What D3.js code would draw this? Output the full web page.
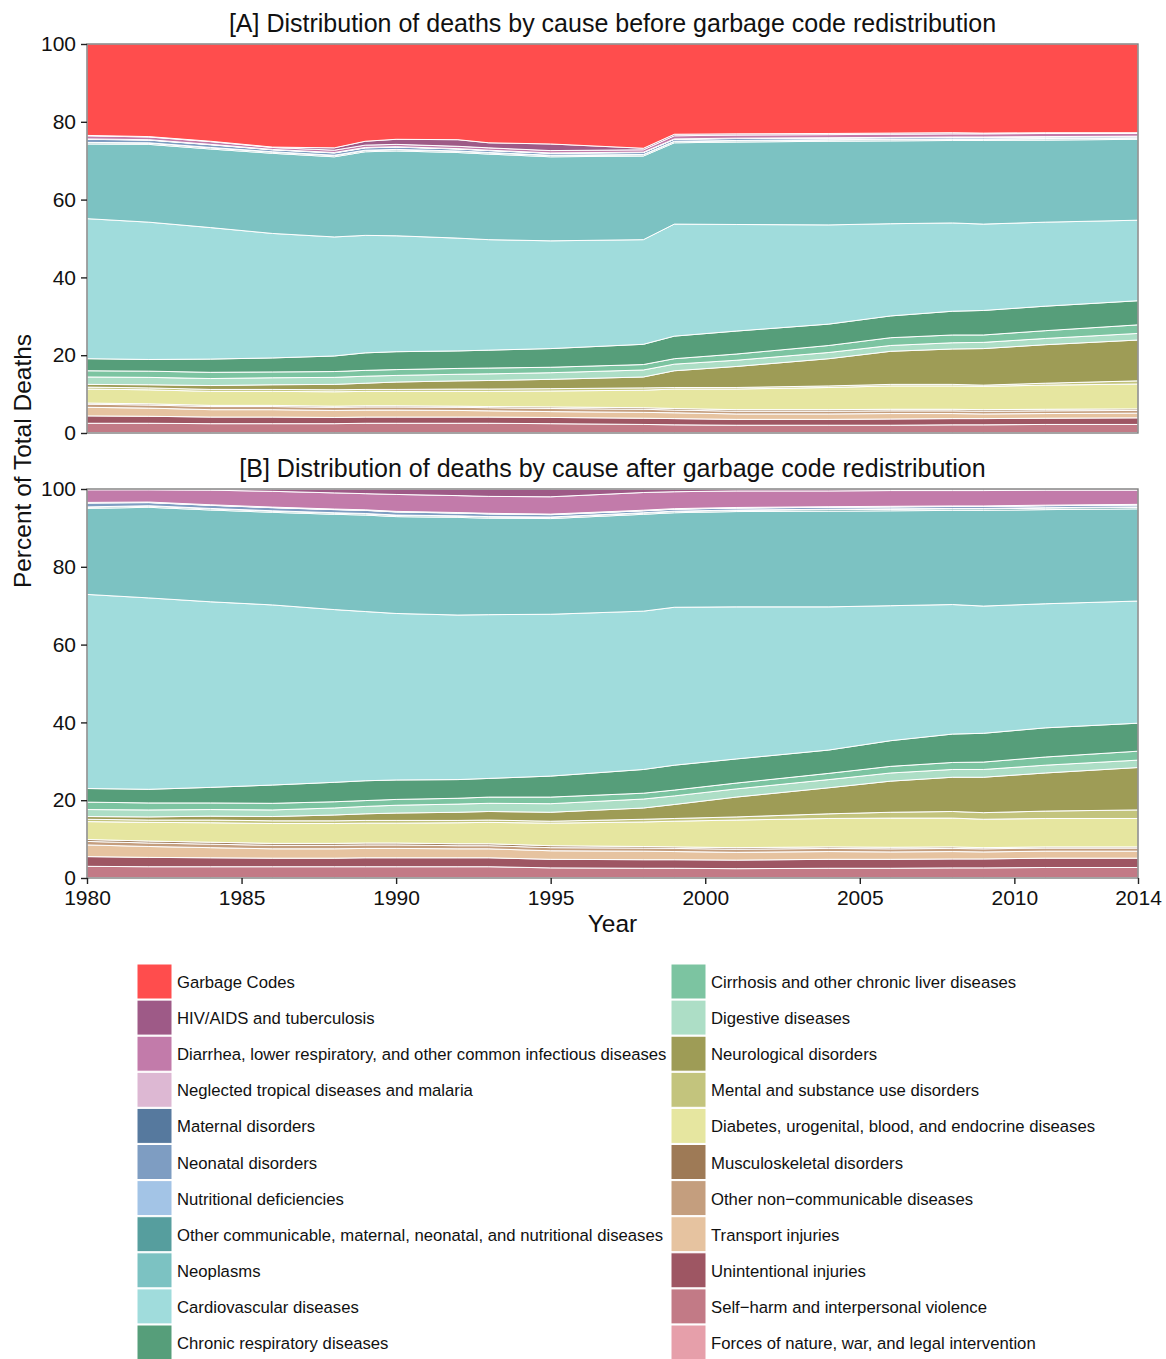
<!DOCTYPE html>
<html><head><meta charset="utf-8">
<script src="https://cdn.jsdelivr.net/npm/d3@7"></script>
<style>
body{margin:0;background:#fff;}
svg text{font-family:"Liberation Sans",Arial,Helvetica,sans-serif;}
</style>
</head><body>
<svg id="chart" width="1166" height="1359"></svg>
<script>
// ---------- data ----------
const years = [1980,1982,1984,1986,1988,1989,1990,1992,1993,1995,1998,1999,2001,2004,2006,2008,2009,2011,2014];

// Panel A: before garbage code redistribution (percent of total deaths)
const A_garbage    = [23.5,23.8,25.0,26.5,26.7,25.0,24.5,24.6,25.4,25.7,26.8,23.2,23.1,23.0,22.9,22.8,22.9,22.8,22.8];
const A_hiv        = [0.1,0.1,0.1,0.1,0.6,1.0,1.3,1.7,1.3,1.7,0.4,0.4,0.3,0.3,0.3,0.3,0.2,0.2,0.2];
const A_diarrhea   = [0.8,0.7,0.7,0.5,0.6,0.6,0.6,0.6,0.6,0.6,0.6,0.8,0.8,0.8,0.8,0.8,0.8,0.8,0.7];
const A_ntd        = [0.05,0.05,0.05,0.05,0.05,0.05,0.05,0.05,0.05,0.05,0.05,0.05,0.05,0.05,0.05,0.05,0.05,0.05,0.05];
const A_maternal   = [0.05,0.05,0.05,0.05,0.05,0.05,0.05,0.05,0.05,0.05,0.05,0.05,0.05,0.05,0.05,0.05,0.05,0.05,0.05];
const A_neonatal   = [0.8,0.7,0.7,0.5,0.6,0.6,0.6,0.5,0.5,0.5,0.5,0.5,0.5,0.4,0.4,0.4,0.4,0.4,0.3];
const A_nutrition  = [0.1,0.1,0.1,0.1,0.1,0.1,0.1,0.1,0.1,0.1,0.1,0.1,0.1,0.1,0.1,0.1,0.1,0.1,0.1];
const A_othercmnn  = [0.3,0.3,0.3,0.3,0.3,0.3,0.3,0.3,0.3,0.3,0.3,0.3,0.3,0.3,0.3,0.3,0.3,0.3,0.3];
const A_neoplasm   = [19.2,20.0,20.2,20.6,20.6,21.5,21.8,22.0,22.0,21.6,21.5,20.9,21.2,21.5,21.3,21.2,21.5,21.1,20.8];
const A_cvd        = [36.0,35.3,33.8,32.0,30.6,30.2,29.8,29.0,28.4,27.7,26.9,28.8,27.4,25.5,23.7,22.7,22.2,21.6,20.7];
const A_chronresp  = [3.1,3.0,3.4,3.6,4.0,4.5,4.6,4.5,4.6,4.8,5.2,5.8,5.9,5.5,5.6,6.1,6.3,6.3,6.2];
const A_cirrhosis  = [1.6,1.6,1.6,1.5,1.5,1.5,1.5,1.5,1.5,1.4,1.4,1.4,1.6,1.8,2.0,2.0,1.9,2.0,2.2];
const A_digestive  = [1.9,1.9,1.8,1.8,1.8,1.8,1.7,1.7,1.7,1.7,1.8,1.7,1.6,1.6,1.5,1.6,1.6,1.6,1.7];
const A_neuro      = [0.7,0.8,1.0,1.2,1.4,1.6,1.9,2.1,2.2,2.4,2.8,4.3,5.4,7.0,8.5,9.1,9.4,9.9,10.5];
const A_mental     = [0.5,0.5,0.5,0.5,0.5,0.5,0.5,0.6,0.6,0.6,0.6,0.4,0.4,0.4,0.4,0.4,0.3,0.5,0.8];
const A_diabetes   = [3.6,3.6,3.6,3.6,3.7,3.7,3.7,3.8,3.9,4.1,4.5,5.0,5.3,5.7,6.0,6.0,6.0,6.2,6.4];
const A_msk        = [0.3,0.3,0.3,0.3,0.3,0.3,0.3,0.3,0.3,0.4,0.4,0.4,0.4,0.4,0.4,0.4,0.4,0.4,0.4];
const A_otherncd   = [0.8,0.8,0.8,0.8,0.8,0.8,0.8,0.8,0.8,0.8,0.8,0.7,0.7,0.7,0.7,0.7,0.7,0.7,0.7];
const A_transport  = [2.2,2.1,1.9,1.9,1.8,1.8,1.8,1.7,1.6,1.5,1.5,1.5,1.4,1.4,1.4,1.3,1.2,1.2,1.2];
const A_unint      = [1.9,1.8,1.7,1.7,1.6,1.6,1.6,1.6,1.6,1.6,1.6,1.6,1.5,1.5,1.6,1.6,1.6,1.6,1.7];
const A_selfharm   = [2.4,2.4,2.3,2.3,2.3,2.4,2.4,2.4,2.4,2.3,2.1,2.0,1.9,1.9,1.9,2.0,2.0,2.1,2.1];
const A_forces     = [0.1,0.1,0.1,0.1,0.1,0.1,0.1,0.1,0.1,0.1,0.1,0.1,0.1,0.1,0.1,0.1,0.1,0.1,0.1];

// Panel B: after garbage code redistribution
const B_garbage    = [0,0,0,0,0,0,0,0,0,0,0,0,0,0,0,0,0,0,0];
const B_hiv        = [0.2,0.2,0.3,0.6,1.0,1.2,1.4,1.7,1.9,2.0,0.9,0.7,0.5,0.5,0.4,0.4,0.4,0.3,0.3];
const B_diarrhea   = [3.25,3.15,3.75,4.05,4.15,4.15,4.35,4.35,4.35,4.45,4.55,4.35,4.25,4.05,4.05,3.95,3.95,3.85,3.65];
const B_ntd        = [0.1,0.1,0.1,0.1,0.1,0.1,0.1,0.1,0.1,0.1,0.1,0.1,0.1,0.1,0.1,0.1,0.1,0.1,0.1];
const B_maternal   = [0.05,0.05,0.05,0.05,0.05,0.05,0.05,0.05,0.05,0.05,0.05,0.05,0.05,0.05,0.05,0.05,0.05,0.05,0.05];
const B_neonatal   = [1.0,0.8,0.8,0.8,0.8,0.8,0.8,0.7,0.7,0.6,0.5,0.5,0.5,0.5,0.5,0.5,0.5,0.5,0.5];
const B_nutrition  = [0.1,0.1,0.1,0.1,0.1,0.1,0.1,0.1,0.1,0.1,0.1,0.1,0.1,0.1,0.1,0.1,0.1,0.1,0.1];
const B_othercmnn  = [0.3,0.3,0.3,0.3,0.3,0.3,0.3,0.3,0.3,0.3,0.3,0.3,0.3,0.4,0.4,0.4,0.4,0.4,0.4];
const B_neoplasm   = [22.1,23.3,23.6,23.8,24.5,24.8,24.9,25.1,24.8,24.6,24.9,24.3,24.5,24.6,24.4,24.2,24.6,24.2,23.7];
const B_cvd        = [49.9,49.2,47.7,46.3,44.4,43.5,42.8,42.3,42.1,41.6,40.7,40.6,39.1,36.8,34.7,33.3,32.7,31.9,31.4];
const B_chronresp  = [3.5,3.5,4.0,4.7,5.0,5.1,5.0,4.8,4.8,5.4,6.1,6.4,6.2,6.0,6.6,7.3,7.4,7.5,7.2];
const B_cirrhosis  = [1.9,1.8,1.7,1.7,1.6,1.5,1.5,1.5,1.6,1.7,1.5,1.5,1.5,1.6,1.7,1.8,1.9,2.1,2.3];
const B_digestive  = [1.8,1.8,1.7,1.7,1.8,1.9,2.0,2.1,2.1,2.2,2.3,2.2,2.1,2.1,2.1,2.0,2.0,2.0,1.9];
const B_neuro      = [0.7,0.8,1.0,1.1,1.5,1.7,1.9,2.1,2.2,2.3,2.9,3.6,5.1,6.7,8.0,8.8,9.1,9.8,10.9];
const B_mental     = [0.6,0.6,0.7,0.7,0.7,0.7,0.7,0.6,0.6,0.5,0.7,0.7,0.8,1.2,1.5,1.7,1.7,1.9,2.2];
const B_diabetes   = [4.6,4.8,5.0,5.1,5.1,5.1,5.1,5.4,5.5,5.8,6.3,6.6,7.1,7.3,7.5,7.4,7.3,7.3,7.3];
const B_msk        = [0.5,0.5,0.5,0.5,0.5,0.5,0.5,0.5,0.5,0.5,0.4,0.4,0.4,0.4,0.4,0.4,0.3,0.3,0.3];
const B_otherncd   = [0.9,0.9,0.9,0.9,0.9,0.9,0.9,0.8,0.8,0.8,0.8,0.8,0.8,0.8,0.8,0.8,0.8,0.8,0.8];
const B_transport  = [3.0,2.8,2.6,2.4,2.4,2.4,2.4,2.3,2.3,2.2,2.2,2.1,2.0,2.0,1.9,1.9,1.8,1.8,1.8];
const B_unint      = [2.5,2.4,2.3,2.2,2.2,2.3,2.3,2.3,2.3,2.2,2.2,2.2,2.2,2.3,2.3,2.3,2.3,2.4,2.4];
const B_selfharm   = [2.9,2.8,2.8,2.8,2.8,2.8,2.8,2.8,2.8,2.5,2.4,2.4,2.3,2.4,2.4,2.5,2.5,2.6,2.6];
const B_forces     = [0.1,0.1,0.1,0.1,0.1,0.1,0.1,0.1,0.1,0.1,0.1,0.1,0.1,0.1,0.1,0.1,0.1,0.1,0.1];

// cause names in legend order (top of stack first)
const causes = [
  "Garbage Codes",
  "HIV/AIDS and tuberculosis",
  "Diarrhea, lower respiratory, and other common infectious diseases",
  "Neglected tropical diseases and malaria",
  "Maternal disorders",
  "Neonatal disorders",
  "Nutritional deficiencies",
  "Other communicable, maternal, neonatal, and nutritional diseases",
  "Neoplasms",
  "Cardiovascular diseases",
  "Chronic respiratory diseases",
  "Cirrhosis and other chronic liver diseases",
  "Digestive diseases",
  "Neurological disorders",
  "Mental and substance use disorders",
  "Diabetes, urogenital, blood, and endocrine diseases",
  "Musculoskeletal disorders",
  "Other non\u2212communicable diseases",
  "Transport injuries",
  "Unintentional injuries",
  "Self\u2212harm and interpersonal violence",
  "Forces of nature, war, and legal intervention"
];
const causeColors = [
  "#FF4D4D","#9E5A87","#C27BAA","#DDB8D3","#56799E","#7E9DC2","#A3C4E6","#569E9E",
  "#7CC2C2","#A0DCDC","#569E7A","#7CC4A1","#ADDEC6","#9E9C56","#C3C47D","#E6E6A0",
  "#9E7A56","#C49E7E","#E6C3A0","#9E5663","#C27A86","#E69FAA"
];

const seriesA = [A_garbage,A_hiv,A_diarrhea,A_ntd,A_maternal,A_neonatal,A_nutrition,A_othercmnn,
  A_neoplasm,A_cvd,A_chronresp,A_cirrhosis,A_digestive,A_neuro,A_mental,A_diabetes,A_msk,A_otherncd,
  A_transport,A_unint,A_selfharm,A_forces];
const seriesB = [B_garbage,B_hiv,B_diarrhea,B_ntd,B_maternal,B_neonatal,B_nutrition,B_othercmnn,
  B_neoplasm,B_cvd,B_chronresp,B_cirrhosis,B_digestive,B_neuro,B_mental,B_diabetes,B_msk,B_otherncd,
  B_transport,B_unint,B_selfharm,B_forces];

const yTicks = [0,20,40,60,80,100];
const xTicks = [1980,1985,1990,1995,2000,2005,2010,2014];

// ---------- drawing ----------
const svg = d3.select("#chart");
const left = 87, right = 1138;
const x = d3.scaleLinear().domain([1980,2014]).range([left,right]);
const color = d3.scaleOrdinal().domain(causes).range(causeColors);
const stackKeys = causes.slice().reverse(); // bottom of stack first

function table(series){
  return years.map((yr,i)=>{
    const row = {year:yr};
    causes.forEach((c,j)=>{ row[c] = series[j][i]; });
    return row;
  });
}

function panel(series, top, bottom, title, showX){
  const y = d3.scaleLinear().domain([0,100]).range([bottom,top]);
  const stack = d3.stack().keys(stackKeys).offset(d3.stackOffsetExpand);
  const layers = stack(table(series));
  const area = d3.area()
    .x(d=>x(d.data.year))
    .y0(d=>y(d[0]*100))
    .y1(d=>y(d[1]*100));
  const g = svg.append("g");
  g.selectAll("path.layer").data(layers).join("path")
    .attr("class","layer")
    .attr("d",area)
    .attr("fill",d=>color(d.key))
    .attr("stroke","#ffffff")
    .attr("stroke-width",1)
    .attr("stroke-linejoin","round");
  // panel border
  g.append("rect").attr("x",left).attr("y",top).attr("width",right-left).attr("height",bottom-top)
    .attr("fill","none").attr("stroke","#7f7f7f").attr("stroke-width",1.4);
  // y axis
  const ya = g.append("g").attr("transform",`translate(${left},0)`)
    .call(d3.axisLeft(y).tickValues(yTicks).tickSize(6).tickPadding(5).tickFormat(d3.format("d")));
  ya.select(".domain").remove();
  ya.selectAll(".tick line").attr("stroke","#222").attr("stroke-width",1.4);
  ya.selectAll(".tick text").attr("font-size",21).attr("fill","#111")
    .attr("font-family","Liberation Sans, Arial, sans-serif");
  if(showX){
    const xa = g.append("g").attr("transform",`translate(0,${bottom})`)
      .call(d3.axisBottom(x).tickValues(xTicks).tickSize(6).tickPadding(6).tickFormat(d3.format("d")));
    xa.select(".domain").remove();
    xa.selectAll(".tick line").attr("stroke","#222").attr("stroke-width",1.4);
    xa.selectAll(".tick text").attr("font-size",21).attr("fill","#111")
      .attr("font-family","Liberation Sans, Arial, sans-serif");
  }
  svg.append("text").attr("x",(left+right)/2).attr("y",top-12)
    .attr("text-anchor","middle").attr("font-size",25).attr("fill","#111").text(title);
}

panel(seriesA, 44, 433, "[A] Distribution of deaths by cause before garbage code redistribution", false);
panel(seriesB, 489, 878, "[B] Distribution of deaths by cause after garbage code redistribution", true);

// axis titles
svg.append("text").attr("x",(left+right)/2).attr("y",932).attr("text-anchor","middle")
  .attr("font-size",24.5).attr("fill","#111").text("Year");
svg.append("text").attr("transform","translate(31,461) rotate(-90)").attr("text-anchor","middle")
  .attr("font-size",24.5).attr("fill","#111").text("Percent of Total Deaths");

// legend
const leg = svg.append("g");
const perCol = 11;
causes.forEach((c,i)=>{
  const col = Math.floor(i/perCol), row = i%perCol;
  const lx = col===0 ? 137 : 671;
  const ly = 964 + row*36.1;
  leg.append("rect").attr("x",lx).attr("y",ly).attr("width",35).attr("height",35)
    .attr("fill",color(c)).attr("stroke","#ffffff").attr("stroke-width",1);
  leg.append("text").attr("x",lx+40).attr("y",ly+24).attr("font-size",16.7).attr("fill","#111").text(c);
});
</script>
</body></html>
